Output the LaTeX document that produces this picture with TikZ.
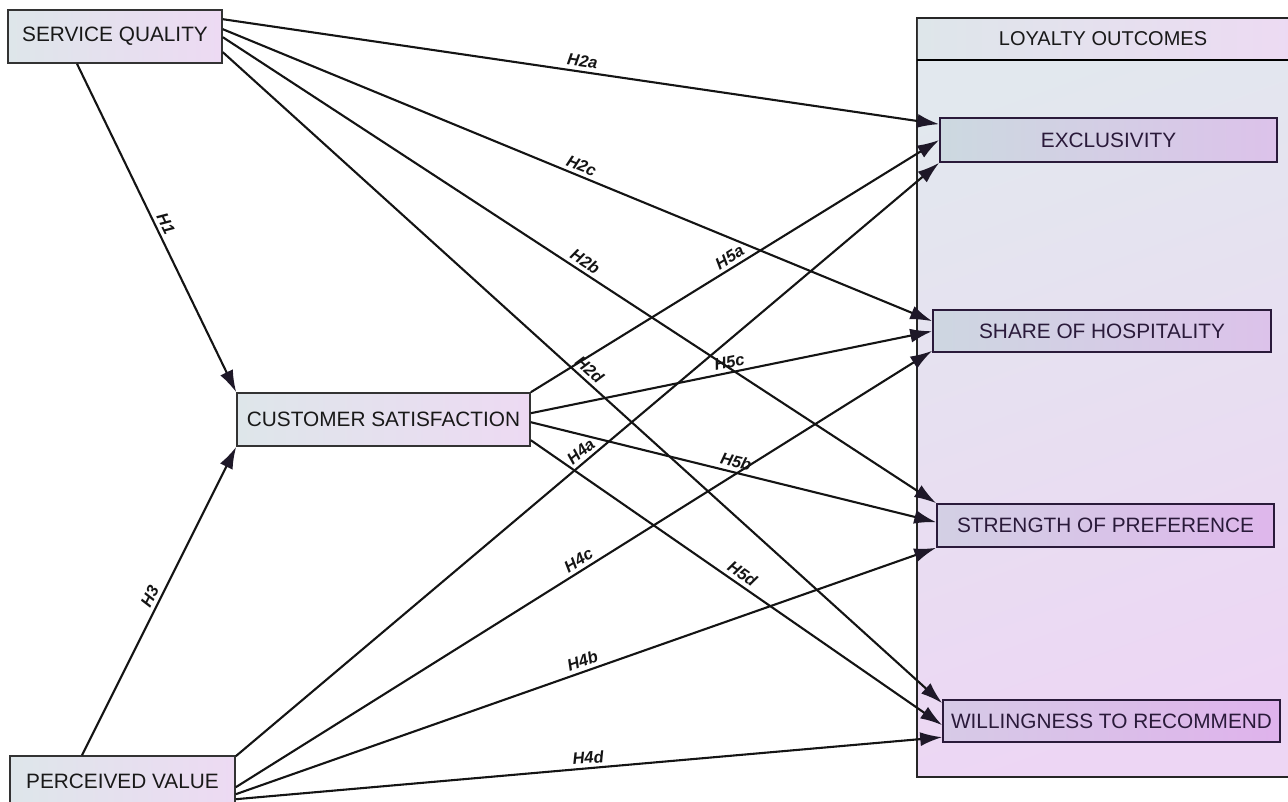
\documentclass[tikz,border=0pt]{standalone}
\usepackage{fontspec}
\setmainfont{Liberation Sans}
\usetikzlibrary{arrows.meta,calc,shapes.geometric}
\definecolor{lbl}{HTML}{DEE6EA}
\definecolor{lpk}{HTML}{EDDAF3}
\definecolor{ibl}{HTML}{CCD9E0}
\definecolor{ipk}{HTML}{DCC2EA}
\definecolor{itx}{HTML}{2A1A3A}
\definecolor{cbl}{HTML}{E2E8EE}
\definecolor{cpk}{HTML}{EDD6F4}
\definecolor{ahd}{HTML}{1E1828}
\tikzset{
  outer/.style={draw=black!80, line width=1.6pt, shading=axis, left color=lbl, right color=lpk,
    font=\fontsize{20.8}{24}\selectfont, text=black!90, inner sep=0pt, anchor=center},
  inner/.style={draw=itx, line width=1.6pt, shading=axis, left color=ibl, right color=ipk,
    font=\fontsize{20.8}{24}\selectfont, text=itx, inner sep=0pt, minimum width=337pt, anchor=center},
  link/.style={line width=2.1pt, black!92, -{Latex[length=22pt,width=14pt,color=ahd]}},
  lab/.style={midway, above, sloped, font=\fontsize{16.5}{19}\selectfont\bfseries\itshape, inner sep=3.5pt}
}
\begin{document}
\begin{tikzpicture}[x=1pt,y=-1pt]
\useasboundingbox (0,0) rectangle (1288,802);
% container
\shade[shading=axis, top color=cbl, bottom color=cpk, shading angle=20] (917,18) rectangle (1300,777);
\draw[line width=1.6pt, black!85] (1300,777) -- (917,777) -- (917,18) -- (1300,18);
\shade[left color=lbl, right color=lpk] (917.8,18.8) rectangle (1300,60);
\draw[line width=2.4pt, black] (917,60) -- (1300,60);
\draw[line width=1.6pt, black!85] (917,18) -- (1300,18);
\node[font=\fontsize{20}{23}\selectfont, text=black!90] (lo) at (1103,39) {LOYALTY OUTCOMES};
% nodes
\node[outer, minimum width=214pt, minimum height=53pt] (sq) at (115,36.5) {SERVICE QUALITY};
\node[outer, minimum width=293pt, minimum height=53pt] (cs) at (383.5,419.5) {CUSTOMER SATISFACTION};
\node[outer, minimum width=225pt, minimum height=50pt] (pv) at (122.5,781) {PERCEIVED VALUE};
\node[inner, minimum height=44pt] (ex) at (1108.5,140) {EXCLUSIVITY};
\node[inner, minimum height=42pt, minimum width=338pt, left color=ibl!90!ipk] (sh) at (1102,331) {SHARE OF HOSPITALITY};
\node[inner, minimum height=43pt, left color=ibl!60!ipk, right color=ipk!80!magenta!30!ipk] (st) at (1105.5,525.5) {STRENGTH OF PREFERENCE};
\node[inner, minimum height=42pt, left color=ibl!35!ipk, right color=ipk!80!magenta!40!ipk] (wi) at (1111.5,721) {WILLINGNESS TO RECOMMEND};
% edges from service quality
\draw[link] ([yshift=-10pt]sq.north east) -- ([yshift=-7pt]ex.north west) node[lab] {H2a};
\draw[link] ([yshift=-20pt]sq.north east) -- ([yshift=-12pt]sh.north west) node[lab] {H2c};
\draw[link] ([yshift=-28pt]sq.north east) -- (st.north west) node[lab] {H2b};
\draw[link] ([yshift=-43pt]sq.north east) -- ([yshift=-4pt]wi.north west) node[lab] {H2d};
\draw[link] ([xshift=-38pt]sq.south) -- (cs.north west) node[lab] {H1};
% from perceived value
\draw[link] ([xshift=-40.5pt]pv.north) -- (cs.south west) node[lab] {H3};
\draw[link] ([yshift=-1pt]pv.north east) -- (ex.south west) node[lab] {H4a};
\draw[link] ([yshift=-32pt]pv.north east) -- ([yshift=2pt]sh.south west) node[lab] {H4c};
\draw[link] ([yshift=-39pt]pv.north east) -- (st.south west) node[lab] {H4b};
\draw[link] ([yshift=-44pt]pv.north east) -- ([yshift=-38pt]wi.north west) node[lab] {H4d};
% from customer satisfaction
\draw[link] (cs.north east) -- (ex.west) node[lab] {H5a};
\draw[link] ([yshift=-21pt]cs.north east) -- ([yshift=-22pt]sh.north west) node[lab] {H5c};
\draw[link] ([yshift=-30pt]cs.north east) -- ([yshift=-19pt]st.north west) node[lab] {H5b};
\draw[link] ([yshift=-48pt]cs.north east) -- ([yshift=-26pt]wi.north west) node[lab] {H5d};
\end{tikzpicture}
\end{document}
